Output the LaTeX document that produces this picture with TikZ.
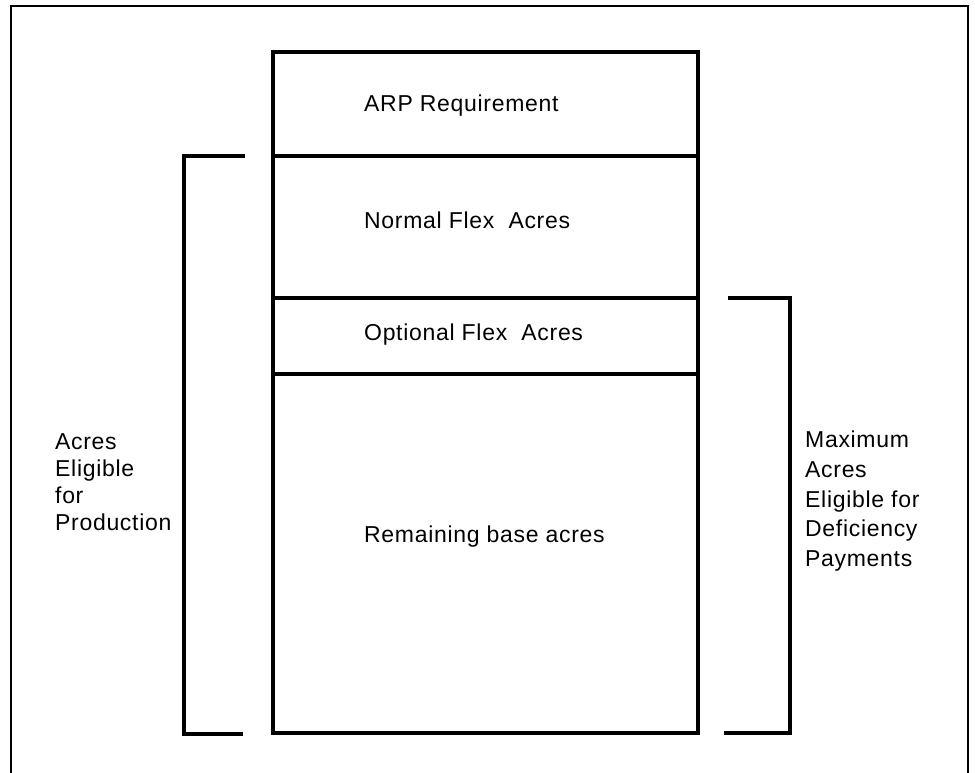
\documentclass[tikz,border=0pt]{standalone}
\usepackage{fontspec}
\setmainfont{Liberation Sans}[LetterSpace=3]
\begin{document}
\begin{tikzpicture}[x=1pt,y=-1pt,
  heavy/.style={line width=3.4pt, line cap=rect},
  frame/.style={line width=1.4pt},
  label/.style={anchor=base west, inner sep=0pt, font=\fontsize{23}{27}\selectfont}]
\useasboundingbox (0,0) rectangle (975,773);

% page frame, open at the bottom
\draw[frame] (11,773) -- (11,6) -- (968,6) -- (968,773);

% stacked acreage column
\draw[heavy] (273,52) rectangle (698,733);
\draw[heavy] (273,156) -- (698,156);
\draw[heavy] (273,298) -- (698,298);
\draw[heavy] (273,374) -- (698,374);

\node[label] (arp) at (364,112) {ARP Requirement};
\node[label] (normal) at (364,228) {Normal Flex\ \ Acres};
\node[label] (optional) at (364,340) {Optional Flex\ \ Acres};
\node[label] (remaining) at (364,542) {Remaining base acres};

% bracket on the left
\draw[heavy, line cap=butt] (245,156) -- (184,156) -- (184,734) -- (243,734);
% bracket on the right
\draw[heavy, line cap=butt] (728,298) -- (790,298) -- (790,733) -- (724,733);

\node[label, align=left, anchor=north west,
  font=\fontsize{23}{27.2}\selectfont] (prod) at (55,433)
  {Acres\\Eligible\\for\\Production};
\node[label, align=left, anchor=north west,
  font=\fontsize{23}{29.6}\selectfont] (defic) at (805,431)
  {Maximum\\Acres\\Eligible for\\Deficiency\\Payments};
\end{tikzpicture}
\end{document}
